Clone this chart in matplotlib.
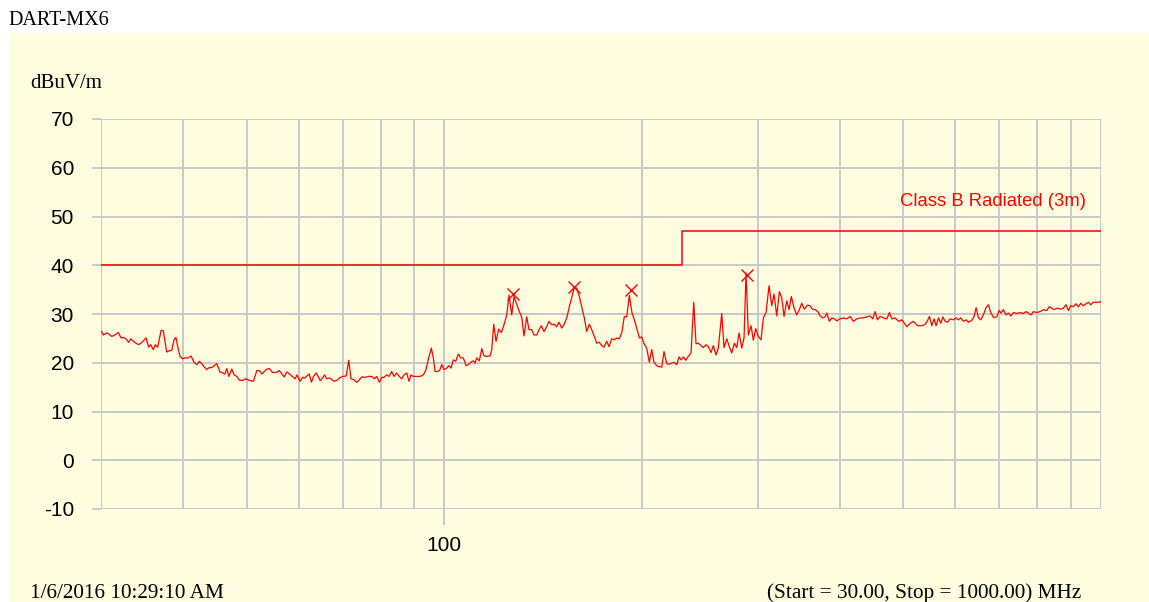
import matplotlib.pyplot as plt
from matplotlib.patches import Rectangle

plt.rcParams['axes.unicode_minus'] = False

# measured trace, frequency in MHz and level in dBuV/m
freq_mhz = [
    30.07, 30.24, 30.61, 30.85, 31.15, 31.51, 31.88, 32.18, 32.44, 32.75,
    33.06, 33.29, 33.60, 33.92, 34.24, 34.64, 35.13, 35.46, 35.71, 36.04,
    36.29, 36.60, 37.03, 37.32, 37.77, 38.21, 38.44, 38.75, 39.02, 39.20,
    39.58, 39.95, 40.28, 40.75, 41.13, 41.57, 41.97, 42.35, 42.71, 43.06,
    43.47, 43.82, 44.24, 44.59, 45.02, 45.54, 45.98, 46.35, 46.63, 46.96,
    47.46, 47.84, 48.30, 48.74, 49.33, 49.90, 50.43, 51.20, 51.81, 52.29,
    52.73, 53.16, 53.67, 54.16, 54.73, 55.39, 56.04, 56.57, 57.03, 57.57,
    58.10, 58.66, 59.28, 59.63, 60.32, 60.81, 61.39, 61.76, 62.26, 62.76,
    63.20, 63.80, 64.25, 64.70, 65.23, 65.69, 66.24, 66.85, 67.41, 68.03,
    68.61, 69.23, 70.06, 70.88,
    71.51, 72.09, 72.86, 73.55, 74.14, 74.85, 75.71, 76.60, 77.51, 78.22,
    78.89, 79.61, 80.28, 80.93, 81.70, 82.36, 83.15, 83.82, 84.61, 85.39,
    86.11, 86.81, 87.63, 88.34, 88.96, 89.69, 90.54, 91.82, 92.89, 93.77,
    94.78, 95.54, 96.21, 96.79, 97.71, 98.50, 99.09, 99.89, 100.84, 101.55,
    102.38, 103.21, 104.08, 105.03, 105.92, 106.89, 107.90, 108.78, 109.70, 110.70,
    111.36, 112.03, 113.05, 114.01, 114.94, 116.03, 117.38, 118.08, 118.91, 119.87,
    121.01, 122.12, 123.28, 124.45, 125.45, 126.65, 127.67, 128.88, 130.06, 131.16,
    132.22, 133.48, 134.56, 135.84, 136.94, 138.25, 139.37, 140.50, 141.83, 143.18,
    144.34, 145.71, 146.89, 148.29, 149.49, 150.91, 152.14, 153.58, 154.99, 156.46,
    157.73, 159.07, 160.52, 161.88, 163.36, 164.74, 166.25, 167.66, 169.19, 170.62,
    172.19,
    173.64, 175.05, 176.71, 178.15, 179.84, 181.49, 183.02, 184.70, 186.26, 187.96,
    189.55, 191.29, 193.11, 194.67, 196.32, 198.12, 199.79, 201.41, 203.32, 205.19,
    206.92, 208.60, 210.58, 212.29, 214.30, 216.04, 218.10, 220.09, 221.95, 223.75,
    225.88, 227.71, 229.31, 231.17, 233.12, 235.26, 237.50, 239.76, 241.70, 243.65,
    245.97, 247.96, 250.32, 252.35, 254.75, 256.81, 259.26, 261.36, 264.49, 266.63,
    269.17, 271.64, 273.93, 276.46, 278.80, 281.06, 283.73, 286.03, 288.04, 290.37,
    293.14, 295.51, 298.01, 300.74, 303.60, 306.06, 308.97, 312.24, 315.21, 317.76,
    320.78, 323.72, 326.46, 329.10, 332.23, 334.92, 337.63, 340.85, 344.09, 347.24,
    350.17, 353.38, 357.12, 360.52, 363.44, 366.94, 370.43, 373.43, 376.98, 380.04,
    382.31, 385.81, 389.07, 392.63, 395.95,
    400.56, 405.23, 410.08, 414.86, 419.69, 424.72, 429.66, 434.66, 439.88, 445.05,
    449.28, 452.92, 456.59, 460.93, 466.29, 471.89, 476.22, 480.24, 485.83, 491.48,
    497.38, 501.93, 506.17, 512.07, 518.02, 525.34, 533.51, 539.72, 544.10, 547.93,
    552.55, 557.03, 560.95, 565.49, 570.28, 574.29, 578.94, 583.61, 589.16, 596.01,
    601.68, 606.56, 611.69, 617.29, 623.16, 628.21, 635.74, 640.89, 645.40, 650.63,
    656.12, 662.04, 667.63, 673.75, 679.44, 685.67, 693.89, 699.51, 704.43, 710.14,
    716.90, 722.70, 728.81, 735.48, 744.30, 752.97, 761.67, 768.91, 775.14, 782.52,
    788.86, 798.32, 807.61, 817.01, 826.81, 834.09, 841.14, 847.95, 858.09, 868.37,
    876.33, 884.66, 891.83, 899.37, 907.58, 916.24, 923.66, 931.47, 940.00, 948.76,
    956.44, 964.52, 973.36, 985.03, 1000.0,
]
level_db = [
    26.4, 25.7, 26.1, 25.9, 25.4, 25.7, 26.2, 25.1, 25.2, 24.9,
    24.2, 24.9, 24.4, 24.0, 23.7, 24.2, 25.1, 23.2, 23.7, 22.7,
    23.7, 23.2, 26.6, 26.6, 22.2, 22.5, 22.5, 24.7, 25.2, 23.7,
    21.3, 20.8, 21.0, 21.0, 21.4, 20.1, 19.6, 20.3, 19.8, 19.2,
    18.6, 19.0, 19.0, 19.4, 19.8, 18.1, 17.9, 17.7, 18.8, 17.2,
    18.7, 17.5, 17.2, 16.4, 16.4, 16.7, 16.4, 16.2, 18.4, 18.4,
    17.7, 18.2, 18.7, 18.8, 18.0, 18.0, 18.4, 17.7, 17.1, 18.1,
    17.7, 17.2, 16.7, 17.5, 16.2, 17.0, 16.9, 17.3, 17.7, 16.0,
    17.2, 17.9, 17.2, 16.3, 16.9, 17.5, 16.7, 16.9, 16.5, 16.2,
    16.4, 16.9, 17.2, 17.3,
    20.5, 16.7, 16.5, 16.0, 16.4, 17.1, 17.0, 17.2, 17.2, 16.7,
    17.2, 16.0, 17.0, 17.0, 17.5, 17.2, 18.2, 17.2, 17.9, 17.2,
    16.7, 17.5, 17.9, 16.2, 17.5, 17.2, 17.2, 17.2, 17.5, 18.6,
    21.3, 23.0, 21.0, 18.2, 18.2, 18.6, 19.6, 18.6, 18.9, 19.4,
    18.9, 20.6, 20.3, 21.8, 21.0, 21.0, 19.4, 19.6, 20.1, 20.4,
    19.9, 21.0, 20.4, 22.9, 21.4, 21.3, 21.4, 22.7, 27.9, 24.4,
    26.9, 26.2, 27.8, 29.8, 33.9, 29.8, 33.6, 32.0, 30.5, 29.4,
    25.5, 29.4, 26.8, 26.8, 25.7, 25.7, 26.8, 27.6, 26.4, 27.4,
    28.5, 27.8, 27.9, 27.4, 28.3, 27.1, 27.8, 29.2, 31.5, 33.6,
    35.5, 35.3, 33.6, 31.5, 29.2, 26.4, 27.9, 26.8, 25.4, 24.0,
    24.2,
    23.5, 23.2, 24.4, 23.3, 24.9, 24.7, 25.1, 24.9, 26.1, 29.5,
    29.4, 33.8, 30.2, 28.8, 27.1, 25.1, 25.3, 23.9, 23.0, 20.1,
    22.7, 20.1, 19.4, 19.2, 19.1, 22.3, 19.8, 19.7, 19.9, 20.1,
    19.6, 21.2, 20.6, 21.2, 20.5, 21.3, 22.0, 32.4, 23.9, 24.0,
    23.5, 23.1, 23.7, 23.3, 22.1, 23.5, 21.6, 23.0, 30.1, 23.1,
    24.9, 23.3, 22.0, 24.0, 23.1, 26.1, 23.0, 25.1, 38.4, 25.7,
    27.6, 24.6, 27.0, 25.4, 24.7, 29.2, 30.3, 35.8, 31.7, 34.1,
    29.6, 34.6, 33.3, 29.5, 32.7, 30.9, 33.6, 31.2, 29.8, 30.9,
    32.2, 31.0, 31.8, 31.7, 31.0, 30.9, 30.5, 29.6, 29.2, 29.4,
    30.2, 28.5, 29.2, 29.0, 28.6,
    29.0, 29.2, 29.0, 29.5, 28.5, 29.0, 29.2, 29.2, 29.4, 29.6,
    29.0, 30.5, 28.8, 29.5, 29.2, 29.0, 30.3, 29.0, 29.2, 28.5,
    28.8, 28.1, 27.4, 28.1, 28.5, 27.6, 27.6, 27.9, 28.6, 29.5,
    27.6, 29.0, 27.6, 29.2, 28.1, 29.4, 28.5, 28.3, 29.0, 28.8,
    29.2, 28.8, 29.2, 28.5, 28.8, 28.3, 28.7, 29.5, 31.3, 29.2,
    28.8, 29.8, 31.2, 31.9, 30.3, 29.3, 29.4, 30.7, 30.2, 30.9,
    29.8, 30.2, 29.6, 30.3, 30.1, 30.3, 30.1, 30.5, 30.2, 29.8,
    30.5, 30.3, 30.5, 30.9, 30.7, 31.5, 31.2, 30.9, 31.2, 31.0,
    31.2, 31.9, 30.7, 31.7, 31.5, 32.1, 31.5, 32.2, 31.7, 32.1,
    32.4, 31.9, 32.4, 32.4, 32.5,
]

# peak markers
peak_freq = [127.09, 157.73, 192.43, 288.75]
peak_level = [34.1, 35.5, 35.0, 38.0]

# Class B radiated limit (3 m)
limit_freq = [30, 230, 230, 1000]
limit_level = [40, 40, 47, 47]

grid_freqs = [30, 40, 50, 60, 70, 80, 90, 100, 200, 300, 400, 500, 600, 700, 800, 900, 1000]
y_ticks = [-10, 0, 10, 20, 30, 40, 50, 60, 70]

W, H = 1149, 602
bg = '#FFFDDF'
red = '#FF0000'
grid_col = '#C8C8C8'

fig = plt.figure(figsize=(W / 100, H / 100), dpi=100, facecolor='white')
fig.patches.append(Rectangle((10 / W, 0), 1, 1 - 33 / H, transform=fig.transFigure,
                             facecolor=bg, edgecolor='none', zorder=-10))

ax = fig.add_axes([101 / W, 1 - 509 / H, 1000 / W, 390 / H])
ax.set_zorder(5)
ax.set_facecolor('none')
ax.set_xscale('log')
ax.set_xlim(30, 1000)
ax.set_ylim(-10, 70)
for s in ax.spines.values():
    s.set_visible(False)

ax.set_xticks(grid_freqs, minor=True)
ax.set_xticks([100])
ax.set_xticklabels(['100'])
ax.set_yticks(y_ticks)
ax.grid(True, which='both', color=grid_col, lw=1.4)
ax.tick_params(axis='x', which='minor', length=0, labelbottom=False)
ax.tick_params(axis='x', which='major', length=11.5, width=1.4, color=grid_col,
               pad=8, labelsize=15)
ax.tick_params(axis='y', length=6.5, width=1.4, color=grid_col, pad=13, labelsize=15)
for lab in ax.get_xticklabels() + ax.get_yticklabels():
    lab.set_family('Liberation Sans')

ax.plot(limit_freq, limit_level, color=red, lw=1.1)
ax.plot(freq_mhz, level_db, color=red, lw=0.9)
ax.plot(peak_freq, peak_level, 'x', color=red, ms=9, mew=1.0)

ax.text(948.8, 52.1, 'Class B Radiated (3m)', color=red, fontsize=13.3,
        family='Liberation Sans', ha='right', va='baseline')

serif = 'Liberation Serif'
fig.text(8 / W, 1 - 25 / H, 'DART-MX6', family=serif, fontsize=14.5, va='baseline')
fig.text(30 / W, 1 - 88 / H, 'dBuV/m', family=serif, fontsize=15, va='baseline')
fig.text(30 / W, 1 - 598 / H, '1/6/2016 10:29:10 AM', family=serif, fontsize=15.3,
         va='baseline')
fig.text(1081 / W, 1 - 598 / H, '(Start = 30.00, Stop = 1000.00) MHz', family=serif,
         fontsize=15.3, va='baseline', ha='right')

fig.savefig('out.png', dpi=100, facecolor='white')
